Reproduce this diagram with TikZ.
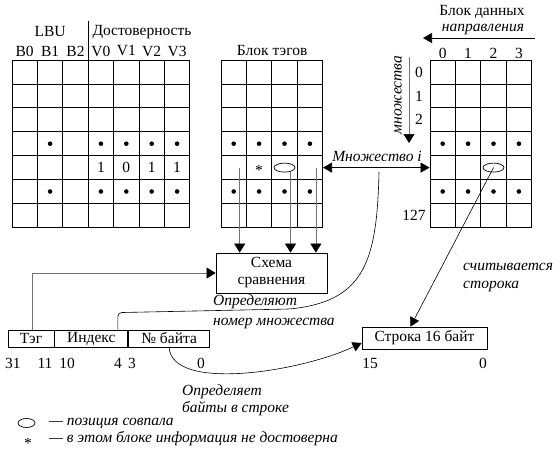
\documentclass[tikz,border=0pt]{standalone}
\usepackage{fontspec}
\setmainfont{Liberation Serif}
\usetikzlibrary{arrows.meta, positioning, calc, shapes.geometric}
\newcommand{\dfont}{\fontsize{15.5}{17}\selectfont}
\tikzset{
  cell/.style={draw, line width=0.8pt, minimum width=25.4pt, minimum height=23.9pt, inner sep=0pt},
  box/.style={draw, line width=0.8pt, inner sep=0pt, align=center, font=\dfont},
  txt/.style={inner sep=0pt, font=\dfont},
  note/.style={inner sep=0pt, font=\dfont\itshape, align=left},
  dot/.style={circle, fill=black, inner sep=0pt, minimum size=4.6pt},
  hit/.style={ellipse, draw, fill=white, line width=0.7pt, inner sep=0pt, minimum width=21pt, minimum height=9pt},
  arr/.style={-{Triangle[length=9pt,width=10pt]}, line width=0.6pt},
  both/.style={{Triangle[length=9pt,width=10pt]}-{Triangle[length=9pt,width=10pt]}, line width=0.7pt},
  feed/.style={-{Triangle[length=9pt,width=11pt,color=black]}, draw=black!55, line width=0.6pt},
  thinline/.style={line width=0.6pt},
}

\begin{document}
\begin{tikzpicture}[x=1pt, y=-1pt]
\useasboundingbox (0,0) rectangle (560,452);
% the three blocks of 128 sets
\foreach \r in {0,...,6} {
  \foreach \c in {0,...,6}
    \node[cell] (L-\r-\c) at (24.7+\c*25.4, 72+\r*23.9) {};
  \foreach \c in {0,...,3} {
    \node[cell] (T-\r-\c) at (233.7+\c*25.4, 72+\r*23.9) {};
    \node[cell] (D-\r-\c) at (442.7+\c*25.4, 72+\r*23.9) {};
  }
}
\foreach \r in {3,5} {
  \foreach \c in {1,3,4,5,6}
    \node[dot] (Ld-\r-\c) at (L-\r-\c) {};
  \foreach \c in {0,...,3} {
    \node[dot] (Td-\r-\c) at (T-\r-\c) {};
    \node[dot] (Dd-\r-\c) at (D-\r-\c) {};
  }
}
\foreach \c/\b in {3/1,4/0,5/1,6/1}
  \node[txt] (bit-\c) at (L-4-\c) {\b};
% headings of the LBU and validity bits
\foreach \c/\t in {0/B0,1/B1,2/B2,3/V0,4/V1,5/V2,6/V3}
  \node[txt] (hd-\c) at (L-0-\c |- 0,51) {\t};
\node[txt] (lbu) at (L-0-1 |- 0,32) {LBU};
\node[txt] (valid) at (142,32) {Достоверность};
\draw[thinline] (L-0-3.north west) -- ++(0,-39);
% the tag block
\node[txt] (tagttl) at (T-0-1.north east |- 0,51) {Блок тэгов};
\node[txt] (star) at ($(T-4-1)+(0,3)$) {*};
% the data block and its directions
\node[txt] (datattl) at (482,12) {Блок данных};
\node[note] (waylbl) at (483,29) {направления};
\coordinate (wayR) at (535,38);
\coordinate (wayL) at (423,38);
\draw[arr] (wayR) -- (wayL);
\foreach \c in {0,...,3}
  \node[txt] (dcol-\c) at (D-0-\c |- 0,53) {\c};
\foreach \r in {0,1,2}
  \node[txt] (drow-\r) at (D-\r-0 -| 419,0) {\r};
\node[txt] (drow-127) at (D-6-0 -| 414,0) {127};
\coordinate (setT) at (409,57);
\coordinate (setB) at (409,143);
\draw[feed] (setT) -- (setB);
\node[note, rotate=90] (setlbl) at (398,95) {множества};
% the compare circuit
\node[box, minimum width=111pt, minimum height=40pt] (cmp) at (271.5,273) {Схема\\сравнения};
\foreach \c in {0,2,3}
  \draw[feed] ([xshift=6pt]T-4-\c.center) -- ([xshift=6pt]T-4-\c.center |- cmp.north);
\node[hit] (thit) at (T-4-2) {};
\node[hit] (dhit) at (D-4-2) {};
% set i
\draw[both] (T-4-3.east) -- (D-4-0.west);
\node[note] (seti) at (377,156) {Множество i};
\coordinate (mi) at (379,172);
% the address fields
\node[box, minimum width=46pt, minimum height=17pt] (ftag) at (31,338.5) {Тэг};
\node[box, minimum width=73pt, minimum height=17pt, right=0pt of ftag] (fidx) {Индекс};
\node[box, minimum width=81pt, minimum height=17pt, right=0pt of fidx] (fbyte) {№ байта};
\foreach \x/\t in {13/31,45/11,67/10,118/4,132/3,201/0}
  \node[txt] (fb-\t) at (\x,363) {\t};
\draw[feed] ([xshift=1pt]ftag.north) |- (cmp.west);
\draw[thinline, rounded corners=4pt] ([xshift=26.5pt]fidx.north) -- ++(0,-17) -- (290,309)
  .. controls (365,300) and (377,260) .. (mi);
\node[note, anchor=west] (setnum) at (213,312) {Определяют\\[3pt]номер множества};
% the line of 16 bytes
\node[box, minimum width=125pt, minimum height=22pt] (line) at (424.5,338) {Строка 16 байт};
\node[txt] (l15) at (370,363) {15};
\node[txt] (l0) at (483,363) {0};
\draw[arr] (dhit.center) -- coordinate[pos=0.5] (rd) ([xshift=-14pt]line.north);
\node[note, anchor=west] (readlbl) at (463,277) {считывается\\[1pt]сторока};
\draw[dotted, black!50] (rd) -- ($(readlbl.west)+(-2,-14)$);
\draw[arr] (fbyte.south) .. controls (172,392) and (300,372) .. ([yshift=-5pt]line.west);
\node[note, anchor=west] (bytelbl) at (182,400) {Определяет\\байты в строке};
% legend
\node[hit, minimum width=17pt] (lgdhit) at (26.5,423) {};
\node[note, anchor=west] (lgd1) at (49,423) {--- позиция совпала};
\node[txt] (lgdstar) at (28,443) {*};
\node[note, anchor=west] (lgd2) at (49,439) {--- в этом блоке информация не достоверна};
\end{tikzpicture}
\end{document}
